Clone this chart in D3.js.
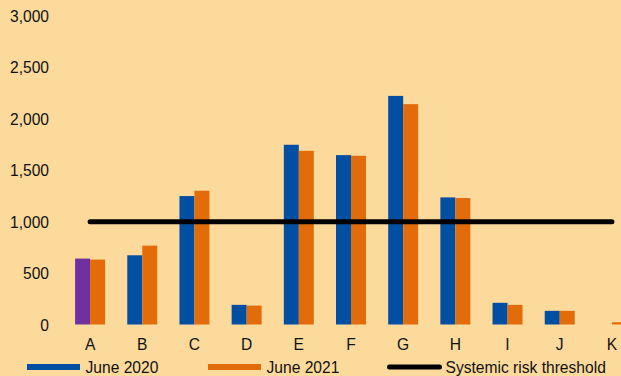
<!DOCTYPE html>
<html>
<head>
<meta charset="utf-8">
<script src="https://cdn.jsdelivr.net/npm/d3@7/dist/d3.min.js"></script>
<style>
  html, body { margin: 0; padding: 0; background: #FCDA9C; overflow: hidden; }
  svg { display: block; font-family: "Liberation Sans", Arial, sans-serif; }
</style>
</head>
<body>
<svg id="chart" width="621" height="376"></svg>
<script>
// Categories and the two observation dates
const categories = ["A", "B", "C", "D", "E", "F", "G", "H", "I", "J", "K"];
const june2020 = [641, 673, 1249, 191, 1748, 1647, 2223, 1236, 211, 133, 0];
const june2021 = [631, 767, 1301, 184, 1689, 1641, 2143, 1230, 191, 133, 22];
const threshold = 1000;
const yTicks = [0, 500, 1000, 1500, 2000, 2500, 3000];
const seriesNames = ["June 2020", "June 2021"];
const thresholdName = "Systemic risk threshold";

const W = 621, H = 376;
const colors = { blue: "#004FA3", orange: "#E36C0A", purple: "#7030A0", bg: "#FCDA9C" };
const textColor = "#111";
const fontSize = 15.6;

const svg = d3.select("#chart");
svg.append("rect").attr("width", W).attr("height", H).attr("fill", colors.bg);

const x = d3.scaleBand().domain(categories).range([64, 638]).paddingInner(0).paddingOuter(0);
const xSub = d3.scaleBand().domain(seriesNames).range([0, x.bandwidth()]).paddingInner(0).paddingOuter(0.74);
const y = d3.scaleLinear().domain([0, 3000]).range([324.5, 16]);

// y axis labels (no axis line, no ticks)
const yAxis = d3.axisLeft(y).tickValues(yTicks).tickFormat(d3.format(",")).tickSize(0).tickPadding(0);
const yg = svg.append("g").attr("transform", "translate(49,0.5)").call(yAxis);
yg.select(".domain").remove();
yg.selectAll("text").attr("font-size", fontSize).attr("fill", textColor)
  .attr("font-family", "Liberation Sans, Arial, sans-serif");

// x axis labels
const xAxis = d3.axisBottom(x).tickSize(0).tickPadding(0);
const xg = svg.append("g").attr("transform", "translate(0,339)").call(xAxis);
xg.select(".domain").remove();
xg.selectAll("text").attr("font-size", fontSize).attr("fill", textColor)
  .attr("font-family", "Liberation Sans, Arial, sans-serif");

// bars
const rows = categories.map((c, i) => ({ cat: c, v: [june2020[i], june2021[i]] }));
const groups = svg.append("g").selectAll("g").data(rows).join("g")
  .attr("transform", d => `translate(${x(d.cat)},0)`);
groups.selectAll("rect").data(d => d.v.map((v, si) => ({ v, s: seriesNames[si], cat: d.cat })))
  .join("rect")
  .attr("x", d => xSub(d.s))
  .attr("width", xSub.bandwidth())
  .attr("y", d => y(d.v))
  .attr("height", d => y(0) - y(d.v))
  .attr("fill", d => d.s === seriesNames[1] ? colors.orange : (d.cat === "A" ? colors.purple : colors.blue));

// threshold line across category centres
const xc = c => x(c) + x.bandwidth() / 2;
svg.append("line")
  .attr("x1", xc(categories[0])).attr("x2", xc(categories[categories.length - 1]))
  .attr("y1", y(threshold)).attr("y2", y(threshold))
  .attr("stroke", "#000").attr("stroke-width", 5).attr("stroke-linecap", "round");

// legend
const legend = svg.append("g");
const legendItems = [
  { name: seriesNames[0], type: "rect", color: colors.blue, x: 27 },
  { name: seriesNames[1], type: "rect", color: colors.orange, x: 208 },
  { name: thresholdName, type: "line", color: "#000", x: 387 }
];
legendItems.forEach(it => {
  if (it.type === "rect") {
    legend.append("rect").attr("x", it.x).attr("y", 364).attr("width", 53).attr("height", 6).attr("fill", it.color);
  } else {
    legend.append("line").attr("x1", it.x + 2.5).attr("x2", it.x + 52.5).attr("y1", 367).attr("y2", 367)
      .attr("stroke", it.color).attr("stroke-width", 5).attr("stroke-linecap", "round");
  }
  legend.append("text").attr("x", it.x + 58.5).attr("y", 372.5).attr("font-size", fontSize)
    .attr("fill", textColor).text(it.name);
});
</script>
</body>
</html>
